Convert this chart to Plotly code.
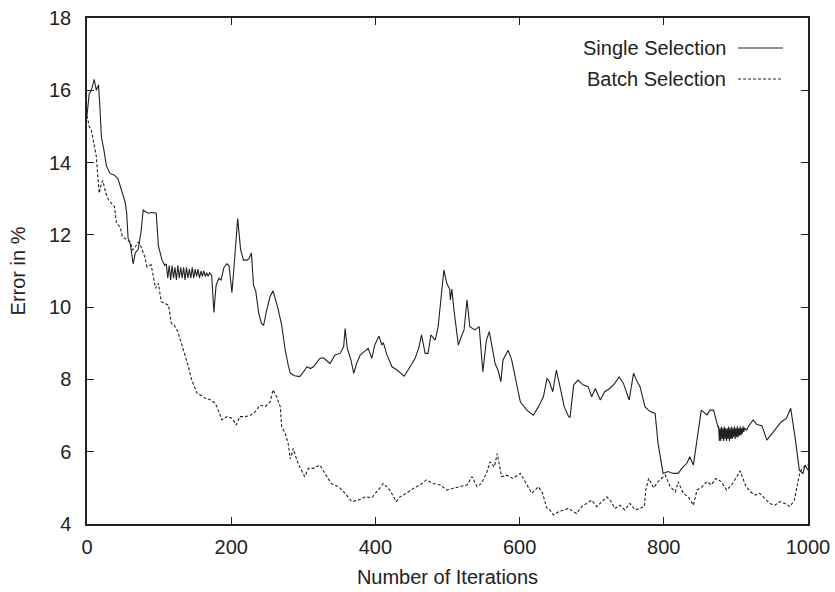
import plotly.graph_objects as go

# ---------------- data ----------------
single_x = [0, 3, 6, 10, 13, 16, 18, 20, 23, 27, 32, 38, 43, 48, 53, 55, 57, 60, 64, 67,
            71, 75, 78, 80, 85, 90, 96, 99, 101, 104, 108,
            110, 112, 114, 116, 118, 120, 122, 124, 126, 128, 130, 132, 134, 136, 138, 140,
            142, 144, 146, 148, 150, 152, 154, 156, 158, 160, 162, 164, 166, 168, 170, 172,
            173, 176, 179, 183, 186, 190, 194, 197, 201, 205, 209, 213, 217, 222, 225, 228,
            231, 234, 238, 242, 245, 249, 254, 258, 261, 265, 270, 275, 279, 282, 288, 295,
            300, 305, 310, 314, 318, 323, 328, 333, 337, 344, 351, 356, 358, 361, 366, 370,
            374, 379, 386, 390, 395, 399, 405, 409, 411, 416, 423, 430, 440, 448, 455, 460,
            464, 469, 473, 477, 483, 487, 492, 495, 499, 503, 504, 506, 509, 515, 520, 523,
            527, 531, 538, 544, 549, 554, 558, 561, 566, 570, 574, 577, 584, 589, 596, 601,
            610, 619, 626, 633, 638, 641, 646, 651, 656, 662, 668, 670, 675, 681, 688, 695,
            700, 705, 712, 718, 725, 732, 738, 744, 752, 758, 763, 767, 774, 781, 788, 792,
            799, 806, 813, 820, 825, 832, 836, 841, 846, 852, 860, 864, 869, 872, 875,
            876, 877, 878, 879, 880, 881, 882, 883, 884, 885, 886, 887, 888, 889, 890, 891,
            892, 893, 894, 895, 896, 897, 898, 899, 900, 901, 902, 903, 904, 905, 906, 907,
            908, 909, 910, 911, 912,
            915, 917, 924, 929, 936, 943, 950, 957, 963, 970, 976, 982, 988, 993, 996, 1000]
single_y = [15.3, 15.9, 16.0, 16.3, 16.0, 16.15, 15.5, 14.7, 14.4, 13.9, 13.7, 13.65, 13.55,
            13.25, 12.9, 12.6, 11.9, 11.75, 11.2, 11.5,
            11.6, 12.1, 12.7, 12.65, 12.6, 12.62, 12.6, 11.7, 11.55, 11.3, 11.15,
            11.2, 10.8, 11.15, 10.75, 11.15, 10.8, 11.1, 10.75, 11.15, 10.8, 11.1, 10.8,
            11.1, 10.75, 11.1, 10.8, 11.05, 10.8, 11.1, 10.8, 11.05, 10.85, 11.05, 10.8,
            11.0, 10.85, 11.0, 10.85, 10.95, 10.85, 10.95, 10.9,
            10.85, 9.85, 10.6, 10.8, 10.75, 11.1, 11.2, 11.15, 10.4, 11.4, 12.45, 11.6, 11.3,
            11.3, 11.35, 11.5,
            10.6, 10.45, 9.85, 9.55, 9.5, 9.9, 10.3, 10.45, 10.25, 9.95, 9.5, 8.8, 8.4, 8.17,
            8.1, 8.08,
            8.2, 8.35, 8.3, 8.35, 8.45, 8.58, 8.6, 8.5, 8.44, 8.68, 8.72, 8.91, 9.41, 8.86,
            8.54, 8.17,
            8.44, 8.68, 8.81, 8.86, 8.58, 8.95, 9.2, 8.95, 9.02, 8.68, 8.35, 8.26, 8.09, 8.35,
            8.58, 8.86,
            9.23, 8.72, 8.72, 9.23, 9.09, 9.46, 10.56, 11.03, 10.66, 10.5, 10.2, 10.5, 9.92,
            8.95, 9.23, 9.37,
            10.2, 9.46, 9.37, 9.46, 8.21, 9.09, 9.32, 9.0, 8.44, 8.26, 7.94, 8.54, 8.81, 8.54,
            7.89, 7.38,
            7.15, 7.01, 7.24, 7.52, 8.03, 7.95, 7.66, 8.26, 7.8, 7.24, 6.97, 6.95, 7.85, 7.98,
            7.85, 7.8,
            7.52, 7.75, 7.43, 7.66, 7.75, 7.89, 8.07, 7.89, 7.43, 8.17, 7.94, 7.8, 7.24, 7.11,
            7.06, 6.23,
            5.4, 5.45, 5.4, 5.4, 5.54, 5.68, 5.86, 5.63, 6.32, 7.15, 7.02, 7.15, 7.15, 6.88, 6.69,
            6.7, 6.3, 6.65, 6.3, 6.7, 6.35, 6.65, 6.3, 6.7, 6.35, 6.65, 6.3, 6.65, 6.35, 6.7,
            6.3, 6.65, 6.35, 6.7, 6.35, 6.65, 6.4, 6.7, 6.35, 6.65, 6.4, 6.7, 6.4, 6.65, 6.45,
            6.7, 6.45, 6.65, 6.5, 6.7, 6.55, 6.65,
            6.6, 6.69, 6.88, 6.75, 6.72, 6.32, 6.5, 6.65, 6.83, 6.92, 7.2, 6.41, 5.49, 5.4,
            5.63, 5.49]

batch_x = [0, 3, 6, 10, 13, 15, 17, 20, 22, 26, 30, 34, 38, 41, 46, 49, 55, 60, 63, 67,
           71, 75, 80, 83, 89, 92, 95, 99, 103, 108, 113, 117, 121, 126, 131, 135, 140, 145,
           150, 153, 157, 164, 171, 178, 182, 187, 194, 201, 207, 212, 219, 226, 233, 240,
           247, 254, 258, 263, 268, 270, 275, 279, 282, 286, 291, 295, 302, 307, 314, 323,
           330, 339, 349, 358, 367, 376, 386, 395, 404, 411, 420, 429, 434, 443, 453, 462,
           471, 480, 490, 499, 508, 517, 527, 534, 541, 547, 554, 559, 565, 569, 575, 582,
           591, 601, 608, 617, 626, 632, 635, 638, 642, 647, 654, 661, 668, 675, 679, 686,
           693, 700, 707, 714, 721, 727, 732, 739, 746, 753, 760, 767, 773, 775, 779, 786,
           792, 802, 809, 816, 820, 827, 834, 841, 846, 853, 860, 866, 872, 880, 887, 894,
           901, 906, 913, 920, 927, 933, 940, 947, 954, 961, 968, 975, 981, 985, 989, 994, 1000]
batch_y = [15.3, 15.0, 14.9, 14.5, 14.16, 13.6, 13.15, 13.43, 13.5, 13.15, 12.96, 12.87, 12.78,
           12.32, 12.22, 11.95, 11.86, 11.8, 11.58, 11.67,
           11.8, 11.67, 11.4, 11.12, 11.17, 10.84, 10.52, 10.66, 10.15, 10.1, 10.06, 9.55, 9.5,
           9.32, 9.0, 8.75, 8.4, 8.0,
           7.75, 7.6, 7.57, 7.48, 7.44, 7.34, 7.15, 6.88, 6.97, 6.93, 6.74, 6.97, 6.97, 7.0,
           7.1, 7.29,
           7.25, 7.38, 7.71, 7.52, 7.25, 6.69, 6.51, 6.23, 5.8, 6.09, 5.77, 5.58, 5.31, 5.54,
           5.54, 5.63,
           5.4, 5.12, 5.03, 4.85, 4.62, 4.66, 4.75, 4.73, 4.94, 5.12, 4.94, 4.62, 4.75, 4.85,
           4.99, 5.08,
           5.22, 5.12, 5.08, 4.94, 4.99, 5.03, 5.08, 5.31, 5.03, 5.12, 5.4, 5.72, 5.58, 5.95,
           5.31, 5.35,
           5.26, 5.4, 5.17, 4.85, 5.03, 4.85, 4.62, 4.43, 4.39, 4.25, 4.34, 4.39, 4.43, 4.34,
           4.29, 4.48,
           4.57, 4.66, 4.48, 4.62, 4.75, 4.62, 4.43, 4.52, 4.39, 4.57, 4.39, 4.43, 4.48, 4.94,
           5.26, 5.0,
           5.17, 5.35, 5.03, 4.89, 5.17, 4.85, 4.75, 4.52, 4.94, 5.03, 5.17, 5.08, 5.26, 5.17,
           4.94, 5.08,
           5.31, 5.47, 5.08, 4.89, 4.8, 4.85, 4.71, 4.57, 4.52, 4.62, 4.57, 4.48, 4.66, 5.03,
           5.45, 5.58, 5.63]

series_names = ["Single Selection", "Batch Selection"]
x_ticks = [0, 200, 400, 600, 800, 1000]
y_ticks = [4, 6, 8, 10, 12, 14, 16, 18]
x_title = "Number of Iterations"
y_title = "Error in %"

# ---------------- figure ----------------
FONT = "Liberation Sans, Arial, Helvetica, sans-serif"
INK = "#222222"

fig = go.Figure()
fig.add_trace(go.Scatter(x=single_x, y=single_y, mode="lines", name=series_names[0],
                         line=dict(color=INK, width=1.1, dash="solid"), showlegend=False))
fig.add_trace(go.Scatter(x=batch_x, y=batch_y, mode="lines", name=series_names[1],
                         line=dict(color=INK, width=1.1, dash="3px,2px"), showlegend=False))

axis_common = dict(
    showline=True, linecolor=INK, linewidth=1.5, mirror="allticks",
    ticks="inside", ticklen=7, tickwidth=1.2, tickcolor=INK,
    showgrid=False, zeroline=False, automargin=False,
    tickfont=dict(family=FONT, size=20, color=INK),
)

fig.update_xaxes(range=[0, 1000], tickvals=x_ticks, ticktext=[str(v) for v in x_ticks],
                 title=dict(text=x_title, font=dict(family=FONT, size=20, color=INK), standoff=13),
                 ticklabelstandoff=4, **axis_common)
fig.update_yaxes(range=[4, 18], tickvals=y_ticks, ticktext=[str(v) for v in y_ticks],
                 title=dict(text=y_title, font=dict(family=FONT, size=20, color=INK), standoff=18),
                 ticklabelstandoff=10, **axis_common)

# gnuplot-style legend: text on the left, line sample on the right
legend_rows = [(series_names[0], 0.9407, "solid"), (series_names[1], 0.8794, "3px,2px")]
for name, yy, dash in legend_rows:
    fig.add_annotation(x=0.889, y=yy, xref="paper", yref="paper", text=name, showarrow=False,
                       xanchor="right", yanchor="middle",
                       font=dict(family=FONT, size=20, color=INK))
    fig.add_shape(type="line", xref="paper", yref="paper", x0=0.903, x1=0.9653, y0=yy, y1=yy,
                  line=dict(color=INK, width=1, dash=dash))

fig.update_layout(
    width=835, height=592,
    margin=dict(l=87, r=27, t=18, b=68, autoexpand=False),
    paper_bgcolor="white", plot_bgcolor="white",
    font=dict(family=FONT, size=20, color=INK),
)

fig.write_html("out.html")
